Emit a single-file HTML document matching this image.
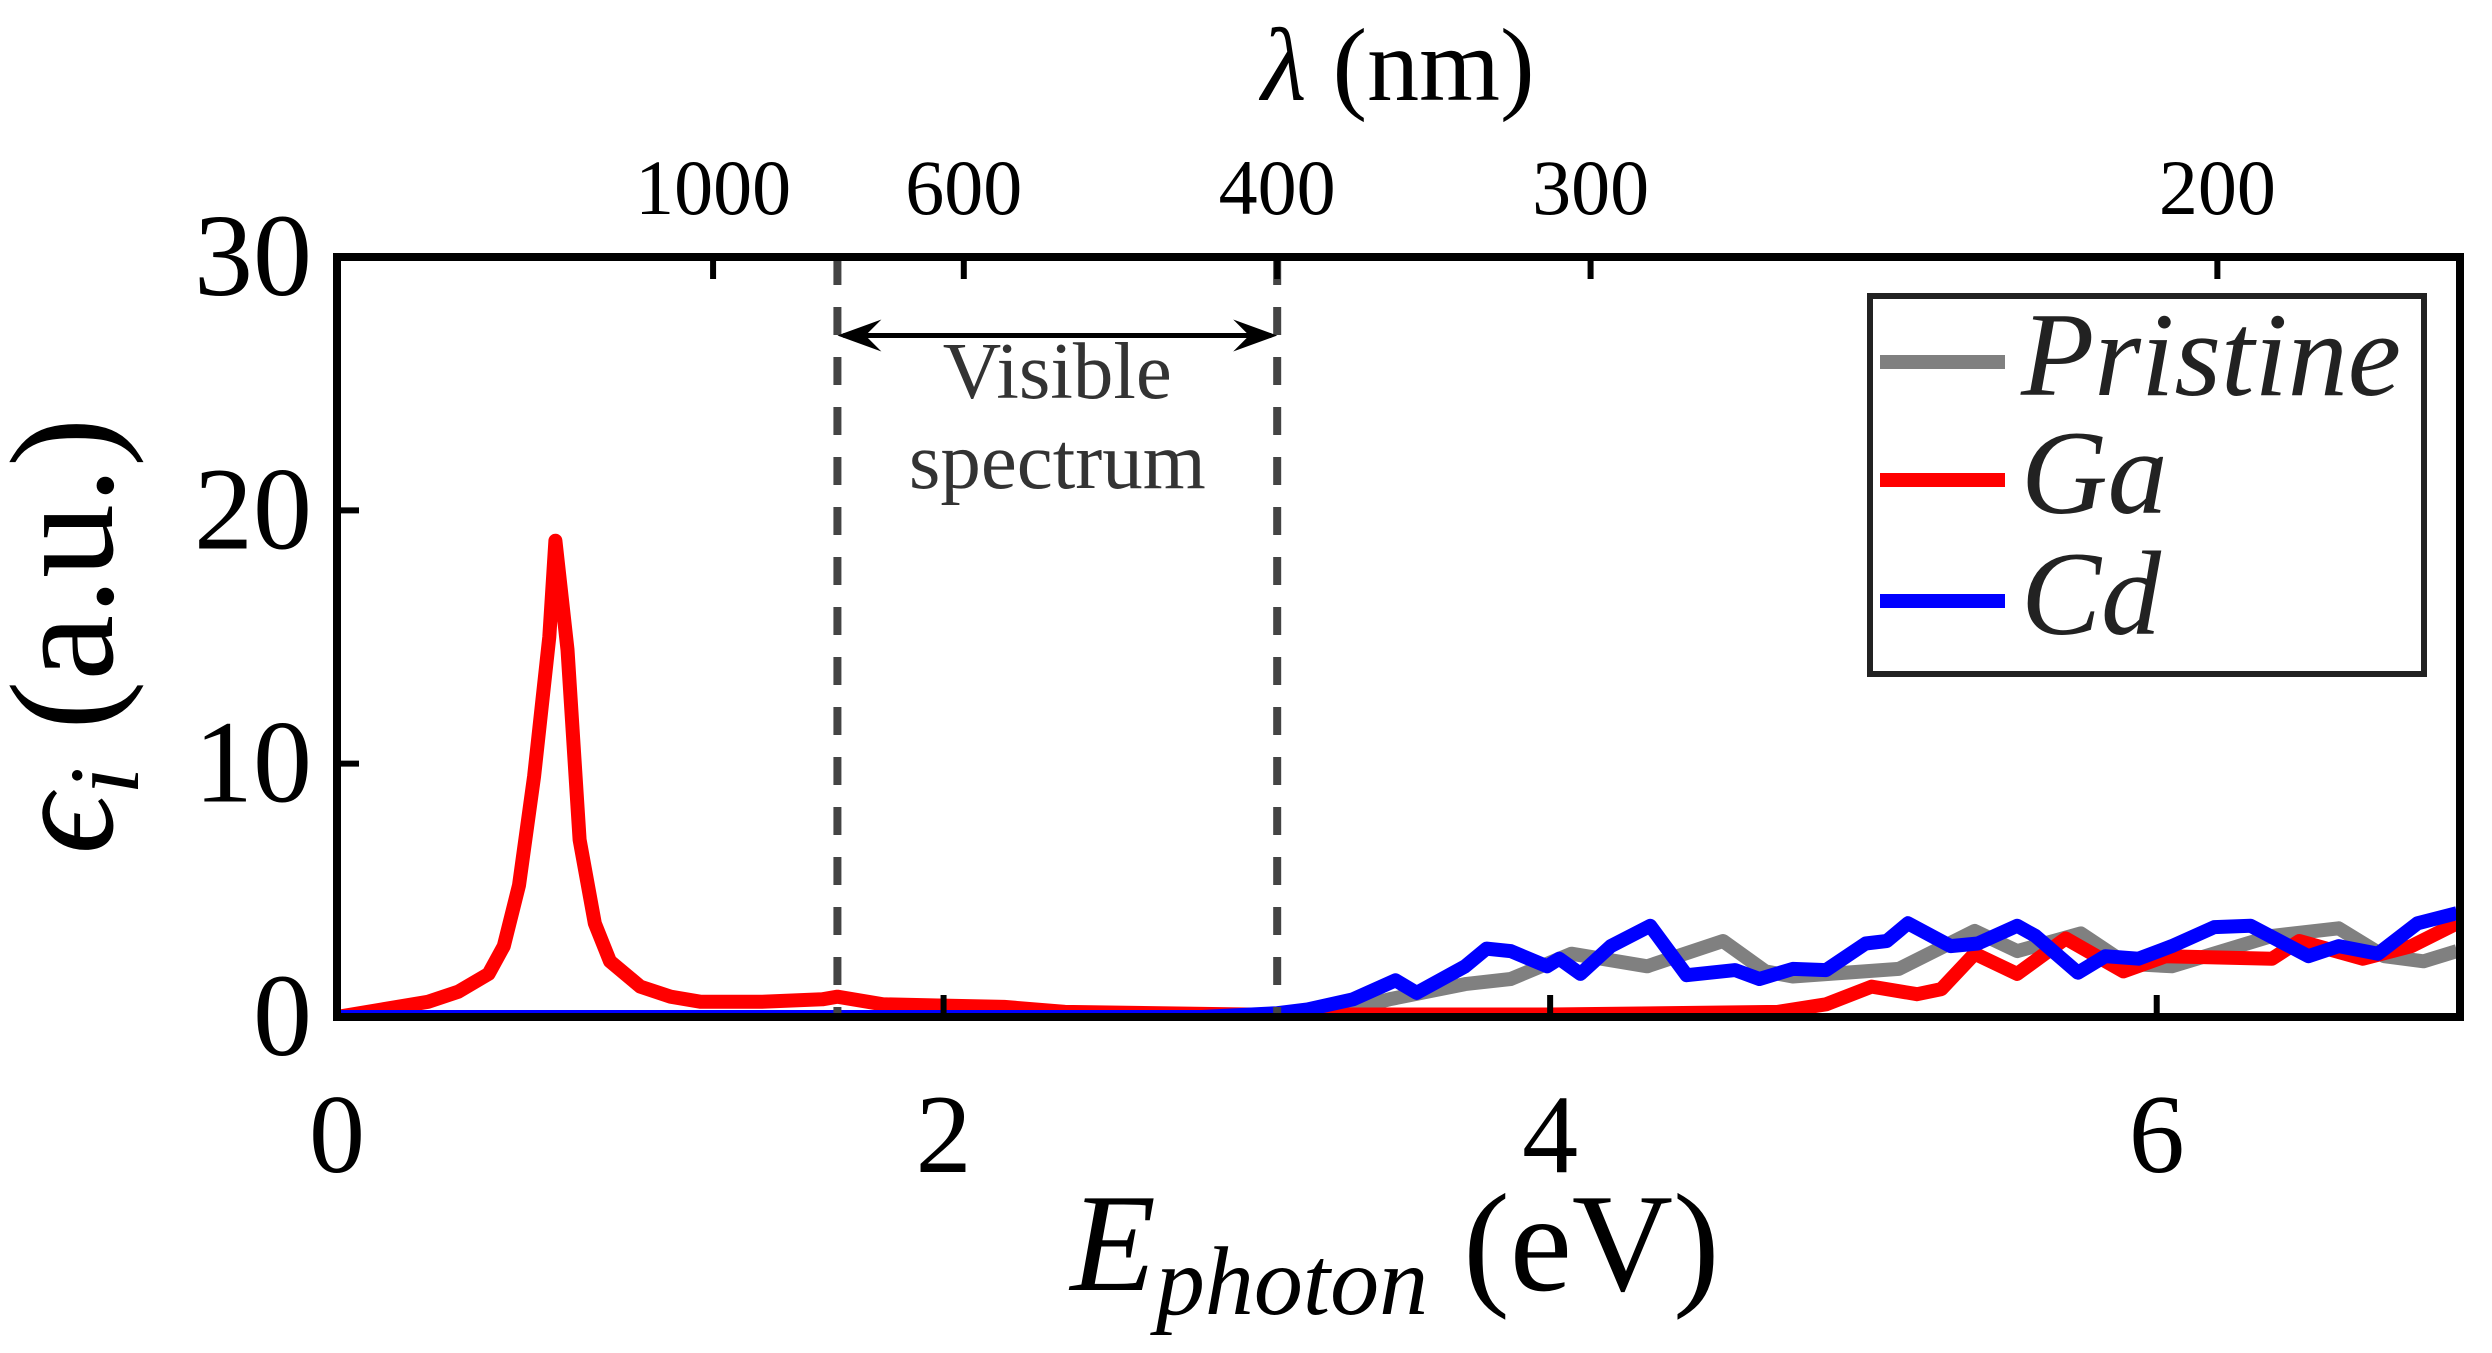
<!DOCTYPE html>
<html><head><meta charset="utf-8"><style>
html,body{margin:0;padding:0;background:#fff;}
svg{display:block;font-family:"Liberation Serif",serif;}
</style></head><body>
<svg id="chart" width="2492" height="1353" viewBox="0 0 2492 1353">
<g id="plot"></g>
</svg>
<script>
const xDomain=[0,7], yDomain=[0,30];
const xTicks=[0,2,4,6];
const yTicks=[0,10,20,30];
const lambdaTicks=[1000,600,400,300,200];
const visibleBounds=[1.65,3.1];
const gaE=[0,0.3,0.4,0.5,0.55,0.6,0.65,0.7,0.72,0.76,0.8,0.85,0.9,1.0,1.1,1.2,1.4,1.6,1.65,1.8,2.0,2.2,2.4,3.0,4.0,4.75,4.91,5.06,5.21,5.29,5.4,5.54,5.7,5.89,6.03,6.38,6.47,6.68,6.84,6.99];
const gaV=[0,0.6,1.0,1.7,2.8,5.2,9.5,15,18.8,14.5,7,3.7,2.2,1.2,0.8,0.6,0.6,0.7,0.8,0.5,0.45,0.4,0.2,0.1,0.1,0.2,0.5,1.2,0.9,1.1,2.5,1.7,3.1,1.8,2.4,2.3,3.0,2.3,2.8,3.7];
const cdE=[0,2.85,3.1,3.2,3.35,3.49,3.56,3.72,3.79,3.87,3.99,4.03,4.1,4.2,4.33,4.45,4.61,4.69,4.8,4.91,5.04,5.11,5.18,5.32,5.41,5.54,5.6,5.74,5.83,5.94,6.05,6.19,6.31,6.5,6.6,6.73,6.86,6.99];
const cdV=[0,0,0.15,0.3,0.7,1.45,0.95,2.0,2.7,2.6,2.0,2.3,1.7,2.8,3.6,1.65,1.85,1.5,1.9,1.85,2.9,3.0,3.7,2.8,2.9,3.6,3.2,1.75,2.4,2.3,2.8,3.55,3.6,2.4,2.8,2.5,3.7,4.1];
const prE=[0,2.85,3.1,3.3,3.47,3.72,3.87,4.07,4.32,4.57,4.71,4.8,5.15,5.4,5.54,5.75,5.9,6.05,6.38,6.6,6.75,6.88,6.99];
const prV=[0,0,0.1,0.2,0.7,1.3,1.5,2.5,2.0,3.0,1.8,1.6,1.9,3.4,2.6,3.3,2.1,2.0,3.2,3.5,2.4,2.2,2.6];
const L=337,R=2460,T=257,B=1017;
const sx=v=>L+(v-xDomain[0])/(xDomain[1]-xDomain[0])*(R-L);
const sy=v=>B-(v-yDomain[0])/(yDomain[1]-yDomain[0])*(B-T);
const NS="http://www.w3.org/2000/svg";
const g=document.getElementById('plot');
function mk(tag,attrs,parent){const e=document.createElementNS(NS,tag);for(const k in attrs)e.setAttribute(k,attrs[k]);(parent||g).appendChild(e);return e;}
const defs=mk('defs',{});const cp=mk('clipPath',{id:'clip'},defs);mk('rect',{x:L,y:T,width:R-L,height:B-T},cp);
function series(E,V,color,name){
  const d=E.map((e,i)=>(i?'L':'M')+sx(e).toFixed(1)+' '+sy(V[i]).toFixed(1)).join(' ');
  const p=mk('path',{d:d,fill:'none',stroke:color,'stroke-width':14,'stroke-linejoin':'round','clip-path':'url(#clip)'});
  
  
}
series(prE,prV,'#808080','pristine-line');
series(gaE,gaV,'#ff0000','ga-line');
series(cdE,cdV,'#0000ff','cd-line');
visibleBounds.forEach((v,i)=>{
  const l=mk('line',{x1:sx(v),x2:sx(v),y1:T,y2:B,stroke:'#444','stroke-width':8,'stroke-dasharray':'28 22'});
  
  
});
const ay=sy(26.9),ax1=sx(visibleBounds[0]),ax2=sx(visibleBounds[1]);
const ar=mk('g',{});


mk('line',{x1:ax1+6,x2:ax2-6,y1:ay,y2:ay,stroke:'#000','stroke-width':5},ar);
mk('path',{d:`M${ax1} ${ay} L${ax1+44} ${ay-16} L${ax1+28} ${ay} L${ax1+44} ${ay+16} Z`,fill:'#000'},ar);
mk('path',{d:`M${ax2} ${ay} L${ax2-44} ${ay-16} L${ax2-28} ${ay} L${ax2-44} ${ay+16} Z`,fill:'#000'},ar);
const cx=(ax1+ax2)/2;
const vt=mk('text',{x:cx,y:398,'text-anchor':'middle','font-size':81,fill:'#333'});vt.textContent='Visible';


const st=mk('text',{x:cx,y:488,'text-anchor':'middle','font-size':81,fill:'#333'});st.textContent='spectrum';


const box=mk('rect',{x:L,y:T,width:R-L,height:B-T,fill:'none',stroke:'#000','stroke-width':8});


xTicks.forEach(v=>{
  mk('line',{x1:sx(v),x2:sx(v),y1:B,y2:B-22,stroke:'#000','stroke-width':6});
  const t=mk('text',{x:sx(v),y:1172,'text-anchor':'middle','font-size':112});t.textContent=v;
  
  
});
yTicks.forEach(v=>{
  mk('line',{x1:L,x2:L+22,y1:sy(v),y2:sy(v),stroke:'#000','stroke-width':6});
  const t=mk('text',{x:312,y:sy(v)+38,'text-anchor':'end','font-size':118});t.textContent=v;
  
  
});
lambdaTicks.forEach(lam=>{
  const e=1240/lam;
  mk('line',{x1:sx(e),x2:sx(e),y1:T,y2:T+22,stroke:'#000','stroke-width':6});
  const t=mk('text',{x:sx(e),y:214,'text-anchor':'middle','font-size':78});t.textContent=lam;
  
  
});
</script>
<svg width="2492" height="1353" style="position:absolute;left:0;top:0">
<g font-family="Liberation Serif, serif">
<text x="1398" y="100" text-anchor="middle" font-size="104"><tspan font-style="italic">λ</tspan> (nm)</text>
<text x="1395" y="1290" text-anchor="middle" font-size="140"><tspan font-style="italic">E</tspan><tspan font-style="italic" font-size="98" dy="24">photon</tspan><tspan dy="-24"> (eV)</tspan></text>
<text transform="translate(112,636) rotate(-90)" text-anchor="middle" font-size="148"><tspan font-style="italic">ϵ</tspan><tspan font-style="italic" font-size="100" dy="26">i</tspan><tspan dy="-26"> (a.u.)</tspan></text>
<g>
<rect x="1870" y="296" width="554" height="378" fill="#fff" stroke="#222" stroke-width="6"/>
<line x1="1880" x2="2005" y1="362" y2="362" stroke="#808080" stroke-width="14"/>
<text x="2021" y="395" font-size="120" font-style="italic" fill="#222">Pristine</text>
<line x1="1880" x2="2005" y1="480" y2="480" stroke="#ff0000" stroke-width="14"/>
<text x="2021" y="513" font-size="120" font-style="italic" fill="#222">Ga</text>
<line x1="1880" x2="2005" y1="601" y2="601" stroke="#0000ff" stroke-width="14"/>
<text x="2021" y="634" font-size="120" font-style="italic" fill="#222">Cd</text>
</g>
</g>
</svg>
</body></html>
